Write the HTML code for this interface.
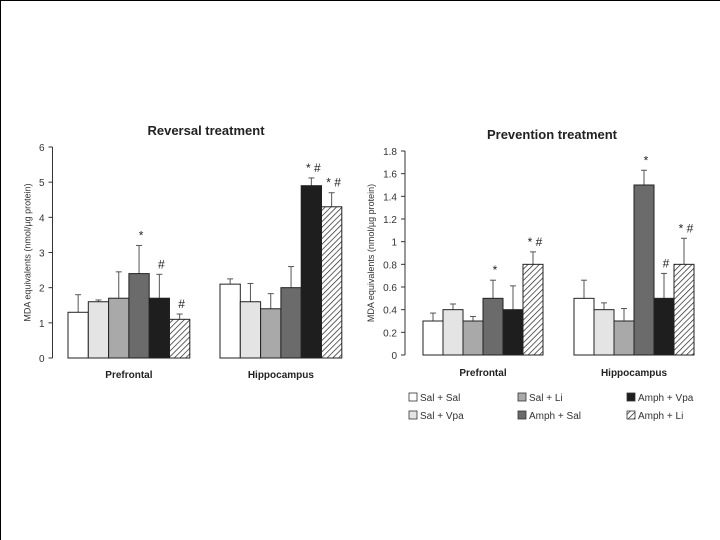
<!DOCTYPE html>
<html><head><meta charset="utf-8"><style>
html,body{margin:0;padding:0;background:#fff}
svg{display:block;font-family:"Liberation Sans",sans-serif}
</style></head><body>
<svg id="c" width="720" height="540" viewBox="0 0 720 540">
<defs><pattern id="hatch" width="4" height="4" patternUnits="userSpaceOnUse" patternTransform="rotate(45)"><rect width="4" height="4" fill="#fff"/><line x1="0" y1="0" x2="0" y2="4" stroke="#222" stroke-width="1.4"/></pattern></defs>
<line x1="0" y1="0.5" x2="720" y2="0.5" stroke="#000"/>
<line x1="0.5" y1="0" x2="0.5" y2="540" stroke="#000"/>
<text x="206" y="135" font-size="13" font-weight="bold" text-anchor="middle" fill="#222">Reversal treatment</text>
<text x="552" y="139" font-size="13" font-weight="bold" text-anchor="middle" fill="#222">Prevention treatment</text>
<g id="gL"></g>
<g id="gR"></g>
<g id="legend"></g>
</svg>
<script>
const groups = ["Prefrontal","Hippocampus"];
const seriesNames = ["Sal + Sal","Sal + Vpa","Sal + Li","Amph + Sal","Amph + Vpa","Amph + Li"];
const revPref = [1.3,1.6,1.7,2.4,1.7,1.1];
const revPrefErr = [1.8,1.65,2.45,3.2,2.38,1.25];
const revHippo = [2.1,1.6,1.4,2.0,4.9,4.3];
const revHippoErr = [2.25,2.12,1.83,2.6,5.12,4.7];
const revPrefMarks = ["","","","*","#","#"];
const revHippoMarks = ["","","","","* #","* #"];
const revTicks = [0,1,2,3,4,5,6];
const prevPref = [0.3,0.4,0.3,0.5,0.4,0.8];
const prevPrefErr = [0.37,0.45,0.34,0.66,0.61,0.91];
const prevHippo = [0.5,0.4,0.3,1.5,0.5,0.8];
const prevHippoErr = [0.66,0.46,0.41,1.63,0.72,1.03];
const prevPrefMarks = ["","","","*","","* #"];
const prevHippoMarks = ["","","","*","#","* #"];
const prevTicks = [0,0.2,0.4,0.6,0.8,1,1.2,1.4,1.6,1.8];

const NS="http://www.w3.org/2000/svg";
const fills=["#fff","#e4e4e4","#a9a9a9","#6b6b6b","#1e1e1e","url(#hatch)"];
function mk(p,tag,a,txt){const e=document.createElementNS(NS,tag);for(const k in a)e.setAttribute(k,a[k]);if(txt!==undefined)e.textContent=txt;p.appendChild(e);return e;}

function chart(g,o){
  const y=v=>o.y0-(v/o.max)*(o.y0-o.yTop);
  let ax=mk(g,'line',{x1:o.ax,y1:o.yTop,x2:o.ax,y2:o.y0,stroke:'#333'});
  
  
  o.ticks.forEach(t=>{
    let tl=mk(g,'line',{x1:o.ax-4,y1:y(t),x2:o.ax,y2:y(t),stroke:'#333'});
    
    
    let tx=mk(g,'text',{x:o.ax-8,y:y(t)+4,'font-size':10,'text-anchor':'end',fill:'#333'},String(t));
    
    
  });
  let yt=mk(g,'text',{x:0,y:0,'font-size':9,'text-anchor':'middle',fill:'#333',transform:`translate(${o.ax-o.titleOff},${(o.y0+o.yTop)/2}) rotate(-90)`},'MDA equivalents (nmol/µg protein)');
  
  
  o.sets.forEach((s,gi)=>{
    s.vals.forEach((v,i)=>{
      const x=s.x+i*o.bw, top=y(v), et=y(s.err[i]), cx=x+o.bw/2;
      let el=mk(g,'line',{x1:cx,y1:top,x2:cx,y2:et,stroke:'#555'});
      
      
      let ec=mk(g,'line',{x1:cx-3,y1:et,x2:cx+3,y2:et,stroke:'#555'});
      
      
      let b=mk(g,'rect',{x:x,y:top,width:o.bw,height:o.y0-top,fill:fills[i],stroke:'#222','stroke-width':1});
      
      
      if(s.marks[i]){
        let m=mk(g,'text',{x:cx+2,y:et-6,'font-size':12,'text-anchor':'middle',fill:'#222'},s.marks[i]);
        
        
      }
    });
    let gl=mk(g,'text',{x:s.x+3*o.bw,y:o.labY,'font-size':10,'font-weight':'bold','text-anchor':'middle',fill:'#222'},groups[gi]);
    
    
  });
}
chart(document.getElementById('gL'),{ax:52.5,y0:358,yTop:147,max:6,ticks:revTicks,bw:20.3,labY:378,titleOff:22,
  sets:[{x:68,vals:revPref,err:revPrefErr,marks:revPrefMarks},{x:220,vals:revHippo,err:revHippoErr,marks:revHippoMarks}]});
chart(document.getElementById('gR'),{ax:405,y0:355,yTop:151,max:1.8,ticks:prevTicks,bw:20,labY:376,titleOff:31,
  sets:[{x:423,vals:prevPref,err:prevPrefErr,marks:prevPrefMarks},{x:574,vals:prevHippo,err:prevHippoErr,marks:prevHippoMarks}]});

const lg=document.getElementById('legend');
const lpos=[[409,401],[409,419],[518,401],[518,419],[627,401],[627,419]];
seriesNames.forEach((n,i)=>{
  const [x,yy]=lpos[i];
  let r=mk(lg,'rect',{x:x,y:yy-8,width:8,height:8,fill:fills[i],stroke:'#333','stroke-width':0.8});
  
  
  let t=mk(lg,'text',{x:x+11,y:yy,'font-size':10,fill:'#333'},n);
  
  
});
</script>
</body></html>
